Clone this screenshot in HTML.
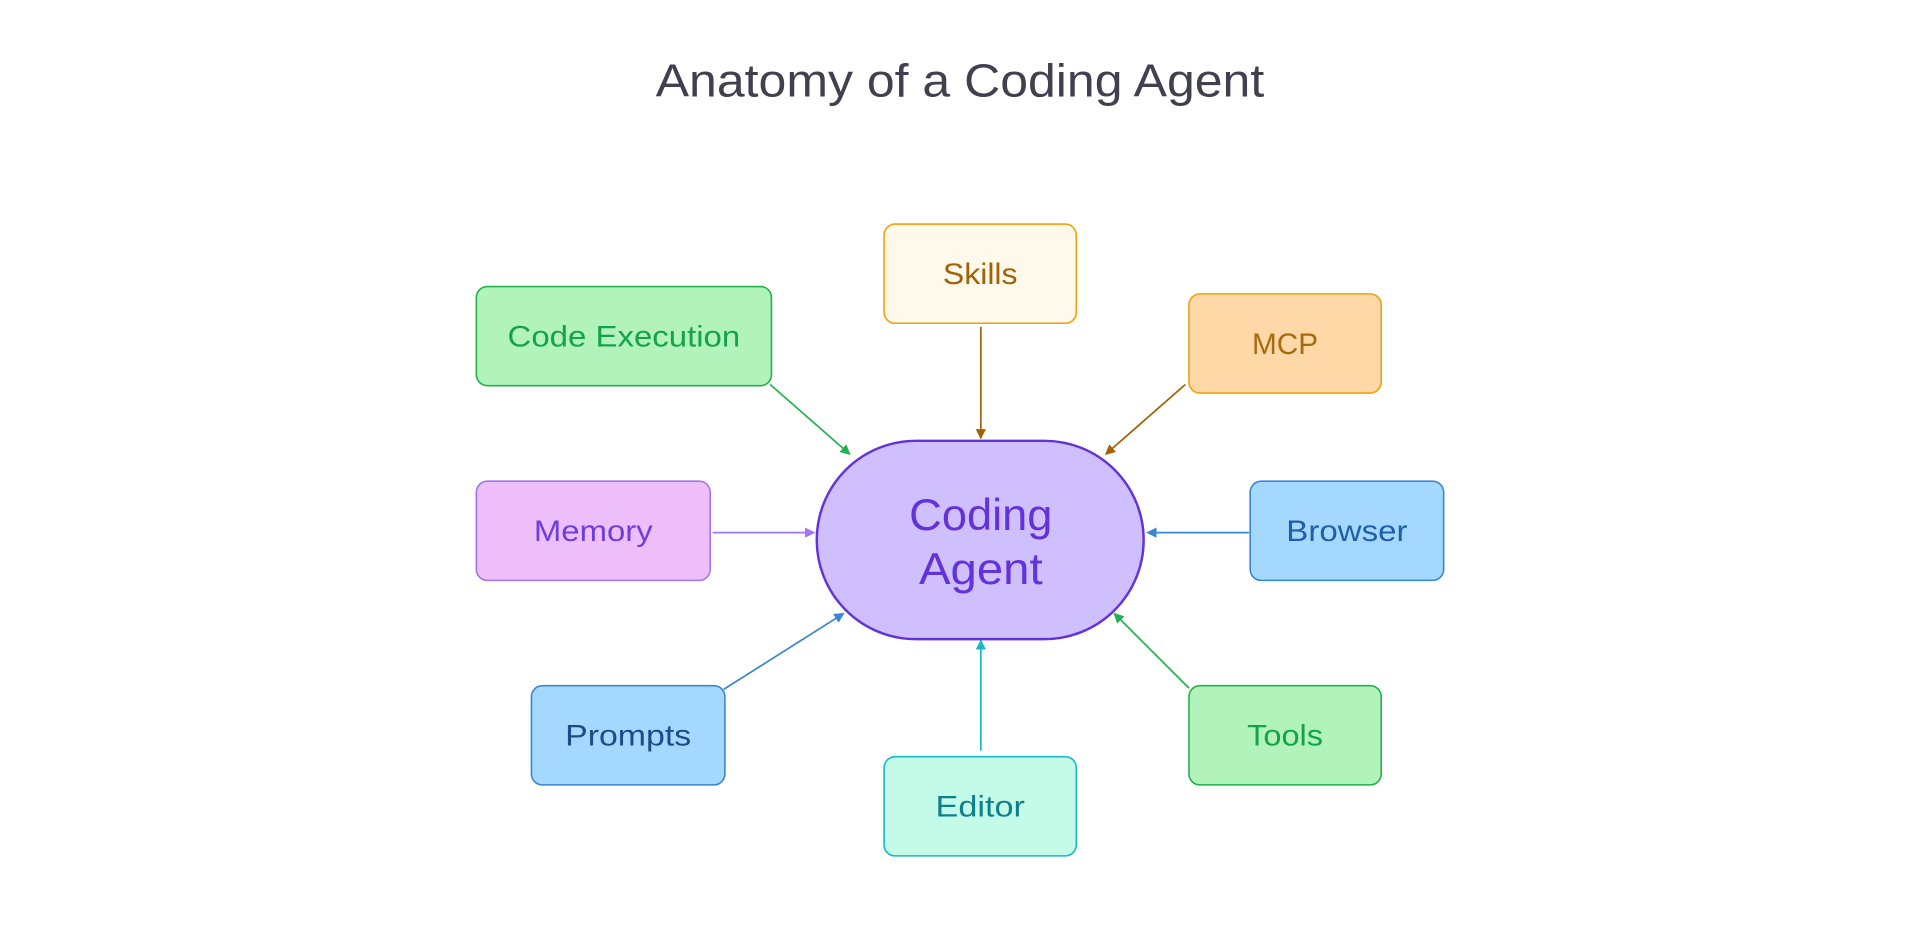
<!DOCTYPE html>
<html><head><meta charset="utf-8"><style>html,body{margin:0;padding:0;background:#fff}svg{display:block}</style></head>
<body>
<svg width="1920" height="934" viewBox="0 0 1568 762.8" xmlns="http://www.w3.org/2000/svg" font-family="'Liberation Sans', sans-serif">
<defs>
<marker id="ag" viewBox="0 0 10 10" refX="9" refY="5" markerWidth="6" markerHeight="6" orient="auto"><path d="M0,0L10,5L0,10z" fill="#22b14c"/></marker>
<marker id="ab" viewBox="0 0 10 10" refX="9" refY="5" markerWidth="6" markerHeight="6" orient="auto"><path d="M0,0L10,5L0,10z" fill="#a16207"/></marker>
<marker id="ap" viewBox="0 0 10 10" refX="9" refY="5" markerWidth="6" markerHeight="6" orient="auto"><path d="M0,0L10,5L0,10z" fill="#a174f0"/></marker>
<marker id="au" viewBox="0 0 10 10" refX="9" refY="5" markerWidth="6" markerHeight="6" orient="auto"><path d="M0,0L10,5L0,10z" fill="#3886d1"/></marker>
<marker id="ac" viewBox="0 0 10 10" refX="9" refY="5" markerWidth="6" markerHeight="6" orient="auto"><path d="M0,0L10,5L0,10z" fill="#14b8c8"/></marker>
</defs>
<text x="784" y="79" text-anchor="middle" font-size="38" fill="#40404f" textLength="497" lengthAdjust="spacingAndGlyphs">Anatomy of a Coding Agent</text>

<g stroke-width="1.4" fill="none">
<line x1="629" y1="314" x2="694" y2="371" stroke="#22b14c" marker-end="url(#ag)"/>
<line x1="801" y1="267" x2="801" y2="358" stroke="#a16207" marker-end="url(#ab)"/>
<line x1="968" y1="314" x2="903" y2="371" stroke="#a16207" marker-end="url(#ab)"/>
<line x1="582" y1="435" x2="665" y2="435" stroke="#a174f0" marker-end="url(#ap)"/>
<line x1="1020" y1="435" x2="937" y2="435" stroke="#3886d1" marker-end="url(#au)"/>
<line x1="591" y1="563" x2="689" y2="501" stroke="#3886d1" marker-end="url(#au)"/>
<line x1="801" y1="613" x2="801" y2="523" stroke="#14b8c8" marker-end="url(#ac)"/>
<line x1="971" y1="562" x2="910" y2="501" stroke="#22b14c" marker-end="url(#ag)"/>
</g>

<rect x="667" y="360" width="267" height="162" rx="81" fill="#d0bfff" stroke="#6233d9" stroke-width="2"/>
<text x="801" y="433" text-anchor="middle" font-size="36" fill="#6233d9" textLength="117" lengthAdjust="spacingAndGlyphs">Coding</text>
<text x="801" y="477" text-anchor="middle" font-size="36" fill="#6233d9" textLength="101" lengthAdjust="spacingAndGlyphs">Agent</text>

<g stroke-width="1.3" font-size="24" text-anchor="middle" lengthAdjust="spacingAndGlyphs">
<rect x="722" y="183" width="157" height="81" rx="9" fill="#fff9eb" stroke="#f59f0b"/>
<text x="800.5" y="232" fill="#a16207" stroke="none" textLength="61" lengthAdjust="spacingAndGlyphs">Skills</text>
<rect x="389" y="234" width="241" height="81" rx="9" fill="#b2f2bb" stroke="#22b14c"/>
<text x="509.5" y="283" fill="#15a34a" stroke="none" textLength="190" lengthAdjust="spacingAndGlyphs">Code Execution</text>
<rect x="971" y="240" width="157" height="81" rx="9" fill="#ffd8a8" stroke="#f59f0b"/>
<text x="1049.5" y="289" fill="#a96a0f" stroke="none" textLength="54" lengthAdjust="spacingAndGlyphs">MCP</text>
<rect x="389" y="393" width="191" height="81" rx="9" fill="#eebefa" stroke="#a174f0"/>
<text x="484.5" y="442" fill="#6d3fd8" stroke="none" textLength="97" lengthAdjust="spacingAndGlyphs">Memory</text>
<rect x="1021" y="393" width="158" height="81" rx="9" fill="#a5d8ff" stroke="#3886d1"/>
<text x="1100" y="442" fill="#1e5fa8" stroke="none" textLength="99" lengthAdjust="spacingAndGlyphs">Browser</text>
<rect x="434" y="560" width="158" height="81" rx="9" fill="#a5d8ff" stroke="#3886d1"/>
<text x="513" y="609" fill="#1e4a8a" stroke="none" textLength="103" lengthAdjust="spacingAndGlyphs">Prompts</text>
<rect x="722" y="618" width="157" height="81" rx="9" fill="#c3fae8" stroke="#14b8c8"/>
<text x="800.5" y="667" fill="#0e7f8c" stroke="none" textLength="73" lengthAdjust="spacingAndGlyphs">Editor</text>
<rect x="971" y="560" width="157" height="81" rx="9" fill="#b2f2bb" stroke="#22b14c"/>
<text x="1049.5" y="609" fill="#15a34a" stroke="none" textLength="62" lengthAdjust="spacingAndGlyphs">Tools</text>
</g>
</svg>
</body></html>
